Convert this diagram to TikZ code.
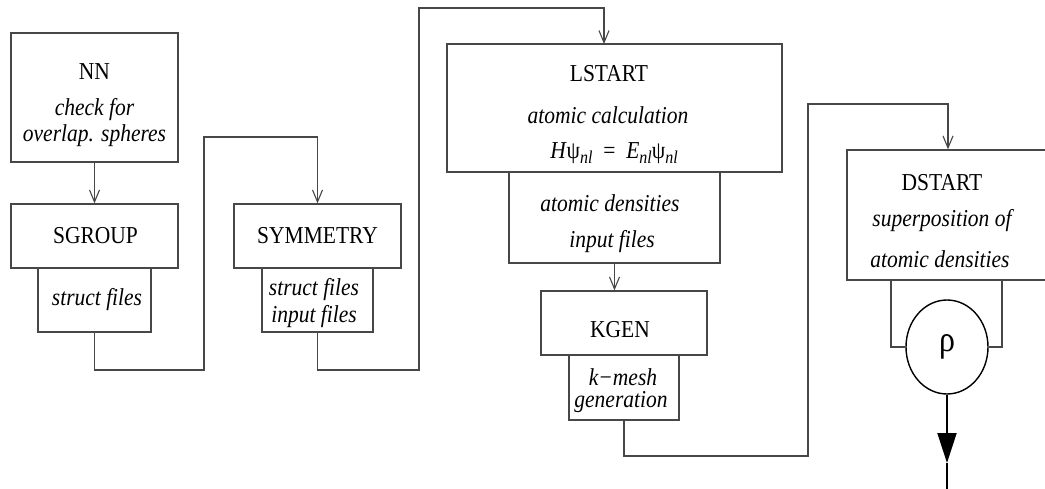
\documentclass[tikz,border=0pt]{standalone}
\usepackage{graphicx}
\usepackage{fontspec}
\setmainfont{Liberation Serif}
\usetikzlibrary{arrows.meta,shapes.geometric}
\newcommand\mysub[1]{\raisebox{-0.45ex}{\fontsize{16}{16}\selectfont\itshape #1}}
\newcommand\vst[1]{\scalebox{1}[1.13]{#1}}
\begin{document}
\begin{tikzpicture}[x=1pt,y=-1pt,
  bx/.style 2 args={rectangle, draw=black!72, line width=1.3pt, minimum width=#1, minimum height=#2, inner sep=0pt},
  tx/.style={inner sep=0pt, font=\fontsize{21.5}{24}\selectfont},
  it/.style={inner sep=0pt, font=\fontsize{21.5}{24}\selectfont\itshape},
  conn/.style={draw=black!72, line width=1.1pt},
  arr/.style={-{Straight Barb[length=12pt,width=10pt]}}]
\clip (0,0) rectangle (1045,489);
\fill[white] (0,0) rectangle (1045,489);

% boxes
\node[bx={167pt}{129pt}] (nn) at (94.5,97.5) {};
\node[bx={167pt}{64pt}] (sg) at (94.5,236) {};
\node[bx={113pt}{64pt}] (sgsub) at (94.5,300) {};
\node[bx={167pt}{64pt}] (sym) at (317.5,236) {};
\node[bx={111pt}{64pt}] (symsub) at (317.5,300) {};
\node[bx={335pt}{128pt}] (ls) at (614.5,108) {};
\node[bx={211pt}{91pt}] (lssub) at (614.5,217.5) {};
\node[bx={166pt}{64pt}] (kg) at (624,323) {};
\node[bx={110pt}{65pt}] (kgsub) at (624,387.5) {};
\node[bx={202pt}{130pt}] (ds) at (948,215) {};
\node[ellipse, draw=black, line width=1.4pt, minimum width=82pt, minimum height=94pt, inner sep=0pt,
      font=\fontsize{32}{32}\selectfont] (rho) at (947,347) {\vst{ρ}};

% texts
\node[tx] (nnT) at (94.5,72) {\vst{NN}};
\node[it] (nnA) at (94.5,110) {\vst{check for}};
\node[it] (nnB) at (94.5,136) {\vst{overlap. spheres}};
\node[tx] (sgT) at (95.5,236) {\vst{SGROUP}};
\node[it] (sgA) at (97,300) {\vst{struct files}};
\node[tx] (symT) at (317.5,236) {\vst{SYMMETRY}};
\node[it] (symA) at (314,290) {\vst{struct files}};
\node[it] (symB) at (314,317) {\vst{input files}};
\node[tx] (lsT) at (609,74) {\vst{LSTART}};
\node[it] (lsA) at (608,115) {\vst{atomic calculation}};
\node[tx] (lsB) at (614,153) {\vst{\textit{H}ψ\mysub{nl}\ \ =\ \ \textit{E}\mysub{nl}ψ\mysub{nl}}};
\node[it] (lssA) at (610,203) {\vst{atomic densities}};
\node[it] (lssB) at (612,242) {\vst{input files}};
\node[tx] (kgT) at (620,330) {\vst{KGEN}};
\node[it] (kgA) at (623,377) {\vst{k−mesh}};
\node[it] (kgB) at (621,402) {\vst{generation}};
\node[tx] (dsT) at (942,183) {\vst{DSTART}};
\node[it] (dsA) at (942,221) {\vst{superposition of}};
\node[it] (dsB) at (940,259) {\vst{atomic densities}};

% connector coordinates
\coordinate (c1a) at (204,370);
\coordinate (c1b) at (204,137);
\coordinate (c2a) at (419,370);
\coordinate (c2b) at (419,8);
\coordinate (lsin) at (604,44);
\coordinate (c4a) at (808,456);
\coordinate (c4b) at (808,104);
\coordinate (dsl) at (891,280);
\coordinate (dsr) at (1002,280);
\coordinate (outtip) at (947,463);
\coordinate (outend) at (947,489);

% connectors
\draw[conn,arr] (nn.south) -- (sg.north);
\draw[conn,arr] (sgsub.south) |- (c1a) -- (c1b) -| (sym.north);
\draw[conn,arr] (symsub.south) |- (c2a) -- (c2b) -| (lsin);
\draw[conn,arr] (lssub.south) -- (lssub.south |- kg.north);
\draw[conn,arr] (kgsub.south) |- (c4a) -- (c4b) -| (ds.north);
\draw[conn] (dsl) |- (rho.west);
\draw[conn] (dsr) |- (rho.east);
\draw[line width=2pt, -{Triangle[length=30pt,width=19pt]}] (rho.south) -- (outtip);
\draw[line width=2pt] (outtip) -- (outend);
\end{tikzpicture}
\end{document}
